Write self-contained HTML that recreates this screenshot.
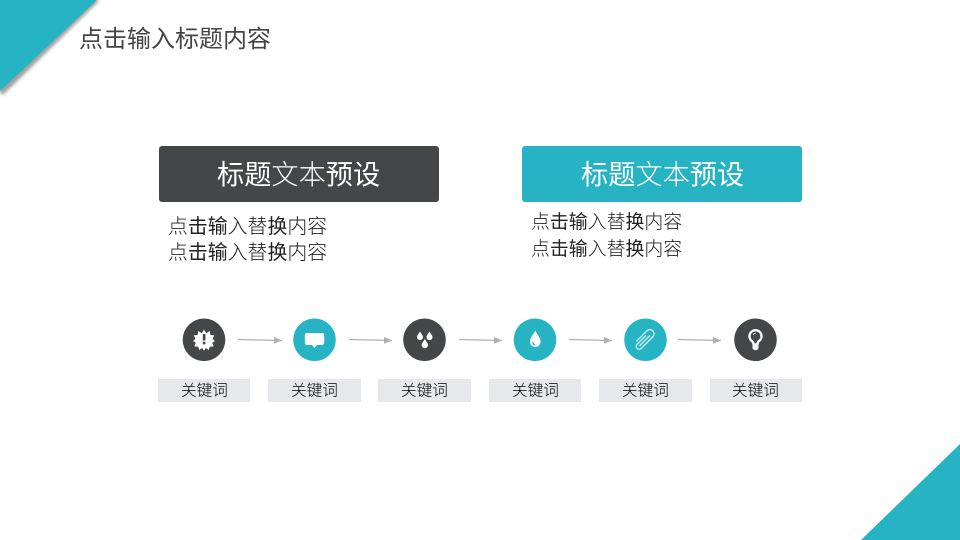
<!DOCTYPE html>
<html lang="zh">
<head>
<meta charset="utf-8">
<title>标题文本预设</title>
<style>
html,body{margin:0;padding:0;background:#fff;width:960px;height:540px;overflow:hidden}
svg{display:block}
text{font-family:"Liberation Sans","Noto Sans CJK SC","WenQuanYi Zen Hei",sans-serif}
.l{font-weight:300}
</style>
</head>
<body>
<svg width="960" height="540" viewBox="0 0 960 540" xmlns="http://www.w3.org/2000/svg">
<defs>
<filter id="s" x="-20%" y="-20%" width="150%" height="150%"><feGaussianBlur stdDeviation="1.5"/></filter>
<marker id="a" markerUnits="userSpaceOnUse" markerWidth="9" markerHeight="8" refX="8" refY="4" orient="auto"><path d="M0 .5L8 4L0 7.500Z" fill="#b0b0b0"/></marker>
</defs>
<rect width="960" height="540" fill="#fff"/>
<path d="M0 0H100L3 95L0 93Z" fill="#a0a0a0" filter="url(#s)"/>
<path d="M0 0H97L0 91Z" fill="#26b3c3"/>
<path d="M960 444V540H861Z" fill="#26b3c3"/>
<text x="79" y="47" font-size="24" fill="#444">点击输入标题内容</text>

<rect x="159" y="146" width="280" height="56" rx="3" fill="#454648"/>
<text x="217" y="184" font-size="27.2" fill="#fff">标题<tspan class="l">文本</tspan>预设</text>
<rect x="522" y="146" width="280" height="56" rx="3" fill="#26b3c3"/>
<text x="581" y="184" font-size="27.2" fill="#fff">标题<tspan class="l">文本</tspan>预设</text>

<g fill="#222">
<text x="168" y="233" font-size="19.9"><tspan class="l">点</tspan>击输<tspan class="l">入替</tspan>换<tspan class="l">内容</tspan></text>
<text x="168" y="259" font-size="19.9"><tspan class="l">点</tspan>击输<tspan class="l">入替</tspan>换<tspan class="l">内容</tspan></text>
<text x="531" y="228" font-size="18.9"><tspan class="l">点</tspan>击输<tspan class="l">入替</tspan>换<tspan class="l">内容</tspan></text>
<text x="531" y="255" font-size="18.9"><tspan class="l">点</tspan>击输<tspan class="l">入替</tspan>换<tspan class="l">内容</tspan></text>
</g>

<circle cx="204" cy="339.800" r="21.300" fill="#454648"/>
<circle cx="314.500" cy="339.800" r="21.300" fill="#26b3c3"/>
<circle cx="424.500" cy="339.800" r="21.300" fill="#454648"/>
<circle cx="535" cy="339.800" r="21.300" fill="#26b3c3"/>
<circle cx="645.500" cy="339.800" r="21.300" fill="#26b3c3"/>
<circle cx="755.500" cy="339.800" r="21.300" fill="#454648"/>

<!-- burst -->
<polygon points="204,329.500 206.200,333.200 209.800,331 210.400,335 214.300,335.400 212.500,338.800 215,341 212.200,342.800 213.800,346.500 209.800,346.600 208.800,350 205.800,348 204,350.800 202.200,348 199.200,350 198.200,346.600 194.200,346.500 195.800,342.800 193,341 195.500,338.800 193.700,335.400 197.600,335 198.200,331 201.800,333.200" fill="#fff"/>
<rect x="202.800" y="334" width="2.600" height="6.500" fill="#454648"/>
<rect x="202.800" y="341.800" width="2.600" height="2.500" fill="#454648"/>
<!-- speech -->
<path d="M307 333h15a2.200 2.200 0 0 1 2.200 2.200v7.600a2.200 2.200 0 0 1-2.200 2.200h-5l-2.500 3-2.500-3h-5a2.200 2.200 0 0 1-2.200-2.200v-7.600a2.200 2.200 0 0 1 2.200-2.200Z" fill="#fff"/>
<!-- drops -->
<g fill="#fff">
<path d="M420 331.500c1.700 2.800 3 3.900 3 5.600a3 3 0 0 1-6 0c0-1.700 1.300-2.800 3-5.600Z"/>
<path d="M429.500 331.500c1.700 2.800 3 3.900 3 5.600a3 3 0 0 1-6 0c0-1.700 1.300-2.800 3-5.600Z"/>
<path d="M424.800 339c1.800 3 3.200 4.200 3.200 6a3.200 3.200 0 0 1-6.400 0c0-1.800 1.400-3 3.200-6Z"/>
</g>
<!-- drop -->
<path d="M535.300 330.500c2.400 4.800 5.300 7.300 5.300 11.300a5.300 5.300 0 0 1-10.600 0c0-4 2.900-6.500 5.300-11.300Z" fill="#fff"/>
<path d="M532.800 341.800c0 1.800 1 2.900 2.400 3.200" stroke="#26b3c3" stroke-width="1.300" fill="none"/>
<!-- paperclip -->
<g transform="rotate(45 645 339.500)" fill="none" stroke="#d5f1f4" stroke-width="1.300">
<path d="M642.800 336v12.500a2.900 2.900 0 0 0 5.800 0v-16.500a4.200 4.200 0 0 0-8.400 0v15"/>
<path d="M645.600 333v15"/>
</g>
<!-- bulb -->
<path d="M755.500 329a7.200 7.200 0 0 1 4.400 12.900c-.9.800-1.300 1.700-1.400 3v2.900a2.700 2.200 0 0 1-6 0v-2.900c-.1-1.300-.5-2.200-1.400-3a7.200 7.200 0 0 1 4.400-12.900Z" fill="#fff"/>
<path d="M755.500 331.400a4.800 4.800 0 0 1 3 8.600c-1.300 1.100-1.900 2.100-2.100 3.300h-1.800c-.2-1.200-.8-2.200-2.100-3.300a4.800 4.800 0 0 1 3-8.600Z" fill="#454648"/>
<path d="M753.300 335a2.400 2.400 0 0 1 2.400-1.700" stroke="#fff" stroke-width="1" fill="none"/>

<g stroke="#b0b0b0" stroke-width="1.200" fill="none">
<line x1="238" y1="339.500" x2="282" y2="340.500" marker-end="url(#a)"/>
<line x1="349" y1="339.500" x2="392" y2="340.500" marker-end="url(#a)"/>
<line x1="459" y1="339.500" x2="502" y2="340.500" marker-end="url(#a)"/>
<line x1="569" y1="339.500" x2="612" y2="340.500" marker-end="url(#a)"/>
<line x1="678" y1="339.500" x2="721" y2="340.500" marker-end="url(#a)"/>
</g>

<g fill="#e7e8ec">
<rect x="158" y="379" width="92" height="23"/>
<rect x="268" y="379" width="93" height="23"/>
<rect x="378" y="379" width="93" height="23"/>
<rect x="489" y="379" width="92" height="23"/>
<rect x="599" y="379" width="93" height="23"/>
<rect x="710" y="379" width="92" height="23"/>
</g>
<g font-size="15.600" fill="#000" class="l">
<text x="181" y="395.500">关键词</text>
<text x="291" y="395.500">关键词</text>
<text x="401" y="395.500">关键词</text>
<text x="512" y="395.500">关键词</text>
<text x="622" y="395.500">关键词</text>
<text x="732" y="395.500">关键词</text>
</g>
</svg>
</body>
</html>
